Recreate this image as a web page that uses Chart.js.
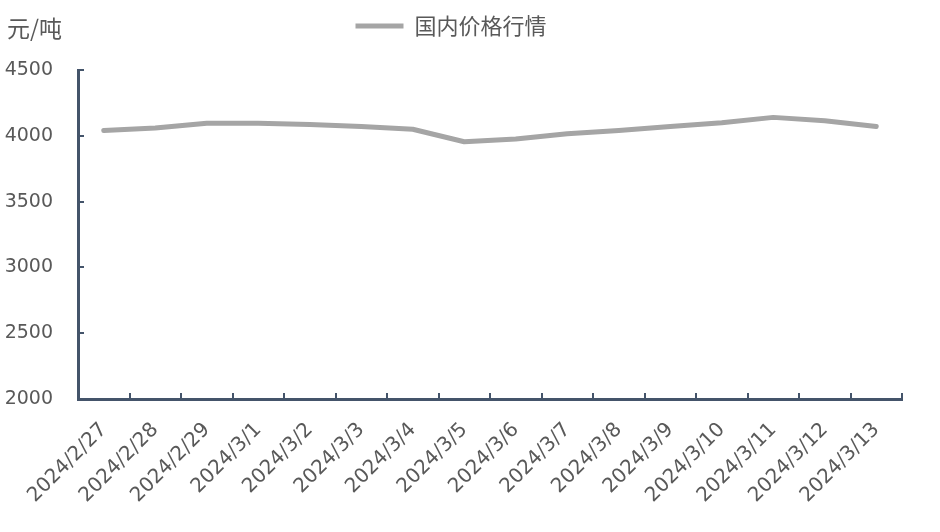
<!DOCTYPE html>
<html>
<head>
<meta charset="utf-8">
<script src="https://cdn.jsdelivr.net/npm/chart.js@4.4.1/dist/chart.umd.min.js"></script>
<style>
  html, body { margin: 0; padding: 0; background: #ffffff; }
  #wrap { position: relative; width: 940px; height: 532px; }
  #unit { position: absolute; left: 7px; top: 11px; font: 23px "Noto Sans CJK SC", "DejaVu Sans", sans-serif; color: #595959; line-height: 32px; }
</style>
</head>
<body>
<div id="wrap">
  <canvas id="c" width="940" height="532"></canvas>
  <div id="unit">元/吨</div>
</div>
<script>
const categories = ["2024/2/27","2024/2/28","2024/2/29","2024/3/1","2024/3/2","2024/3/3","2024/3/4","2024/3/5","2024/3/6","2024/3/7","2024/3/8","2024/3/9","2024/3/10","2024/3/11","2024/3/12","2024/3/13"];
const seriesName = "国内价格行情";
const priceValues = [4040, 4060, 4095, 4095, 4085, 4070, 4050, 3955, 3975, 4015, 4040, 4070, 4100, 4140, 4115, 4070];
const yMin = 2000, yMax = 4500, yStep = 500;

const axisColor = '#44546A';
const textColor = '#595959';

const legendGap = {
  id: 'legendGap',
  beforeInit(chart) {
    const lg = chart.legend;
    if (lg && !lg._patched) {
      const fit = lg.fit;
      lg.fit = function () { fit.call(this); this.height = 65; };
      lg._patched = true;
    }
  }
};

new Chart(document.getElementById('c'), {
  type: 'line',
  data: {
    labels: categories,
    datasets: [{
      label: seriesName,
      data: priceValues,
      borderColor: '#A5A5A5',
      backgroundColor: '#A5A5A5',
      borderWidth: 5,
      borderCapStyle: 'round',
      borderJoinStyle: 'round',
      pointRadius: 0,
      pointHoverRadius: 0,
      tension: 0,
      fill: false
    }]
  },
  options: {
    responsive: false,
    animation: false,
    events: [],
    layout: { padding: { top: 5, right: 38, left: 0, bottom: 0 } },
    plugins: {
      tooltip: { enabled: false },
      legend: {
        display: true,
        position: 'top',
        align: 'center',
        labels: {
          usePointStyle: true,
          pointStyle: 'line',
          pointStyleWidth: 48,
          padding: 10,
          color: textColor,
          font: { family: '"Noto Sans CJK SC", sans-serif', size: 22 }
        }
      }
    },
    scales: {
      x: {
        type: 'category',
        offset: true,
        grid: {
          offset: true,
          drawOnChartArea: false,
          drawTicks: true,
          tickLength: -6,
          color: axisColor,
          lineWidth: 2
        },
        border: { display: true, color: axisColor, width: 3 },
        ticks: {
          autoSkip: false,
          minRotation: 45,
          maxRotation: 45,
          padding: 25,
          color: textColor,
          font: { family: '"DejaVu Sans", sans-serif', size: 20 }
        },
        afterFit(scale) { scale.height = 133; }
      },
      y: {
        min: yMin,
        max: yMax,
        grid: {
          drawOnChartArea: false,
          drawTicks: true,
          tickLength: -6,
          color: axisColor,
          lineWidth: 2
        },
        border: { display: true, color: axisColor, width: 3 },
        ticks: {
          stepSize: yStep,
          padding: 31,
          color: textColor,
          font: { family: '"DejaVu Sans", sans-serif', size: 19 },
          callback: (v) => String(v)
        },
        afterFit(scale) { scale.width = 78; }
      }
    }
  },
  plugins: [legendGap]
});
</script>
</body>
</html>
